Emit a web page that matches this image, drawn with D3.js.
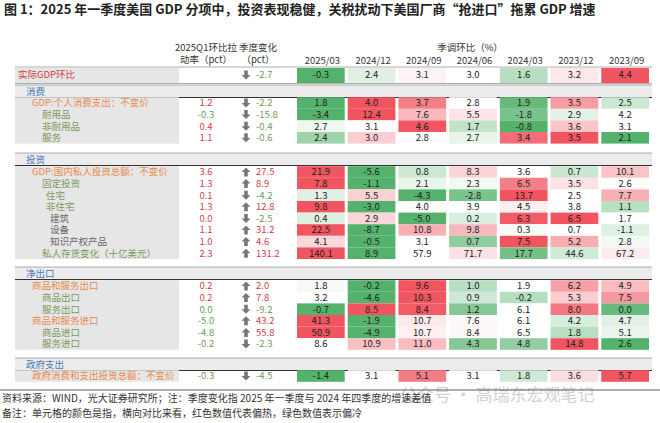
<!DOCTYPE html><html><head><meta charset="utf-8">
<script src="https://cdn.jsdelivr.net/npm/d3@7"></script>
<style>body{margin:0;background:#fff}text{font-family:"Noto Sans CJK SC","Noto Sans",sans-serif}</style></head><body><svg id="c" width="660" height="423"></svg>
<script>
const periods=["2025/03","2024/12","2024/09","2024/06","2024/03","2023/12","2023/09"];
const sections=["实际GDP环比","消费","投资","净出口","政府支出"];
const labels=[
 ["实际GDP环比"],
 ["GDP:个人消费支出：不变价","耐用品","非耐用品","服务"],
 ["GDP:国内私人投资总额：不变价","固定投资","住宅","非住宅","建筑","设备","知识产权产品","私人存货变化（十亿美元）"],
 ["商品和服务出口","商品出口","服务出口","商品和服务进口","商品进口","服务进口"],
 ["政府消费和支出投资总额：不变价"]];
const levels=[[0],[1,2,2,2],[1,2,3,3,4,4,4,2],[1,2,2,1,2,2],[1]];
const contrib=[[null],[1.2,-0.3,0.4,1.1],[3.6,1.3,0.1,1.3,0.0,1.1,1.0,2.3],[0.2,0.2,0.0,-5.0,-4.8,-0.2],[-0.3]];
const contribHot=[[null],[1,0,1,1],[1,1,1,1,1,1,1,1],[1,1,0,0,0,0],[0]];
const change=[[-2.7],[-2.2,-15.8,-0.4,-0.6],[27.5,8.9,-4.2,12.8,-2.5,31.2,4.6,131.2],[2.0,7.8,-9.2,43.2,55.8,-2.3],[-4.5]];
const values=[
 [[-0.3,2.4,3.1,3.0,1.6,3.2,4.4]],
 [[1.8,4.0,3.7,2.8,1.9,3.5,2.5],[-3.4,12.4,7.6,5.5,-1.8,2.9,4.2],[2.7,3.1,4.6,1.7,-0.8,3.6,3.1],[2.4,3.0,2.8,2.7,3.4,3.5,2.1]],
 [[21.9,-5.6,0.8,8.3,3.6,0.7,10.1],[7.8,-1.1,2.1,2.3,6.5,3.5,2.6],[1.3,5.5,-4.3,-2.8,13.7,2.5,7.7],[9.8,-3.0,4.0,3.9,4.5,3.8,1.1],[0.4,2.9,-5.0,0.2,6.3,6.5,1.7],[22.5,-8.7,10.8,9.8,0.3,0.7,-1.1],[4.1,-0.5,3.1,0.7,7.5,5.2,2.8],[140.1,8.9,57.9,71.7,17.7,44.6,67.2]],
 [[1.8,-0.2,9.6,1.0,1.9,6.2,4.9],[3.2,-4.6,10.3,0.9,-0.2,5.3,7.5],[-0.7,8.5,8.4,1.2,6.1,8.0,0.0],[41.3,-1.9,10.7,7.6,6.1,4.2,4.7],[50.9,-4.9,10.7,8.4,6.5,1.8,5.1],[8.6,10.9,11.0,4.3,4.8,14.8,2.6]],
 [[-1.4,3.1,5.1,3.1,1.8,3.6,5.7]]];

const svg=d3.select("#c");
const RH=11.6, FS=9.5;
const x=d3.scaleBand().domain(periods).range([297,652]).paddingInner(0);
const RED="#d0404a",GRN="#6f9a5a";
svg.append("text").attr("x",4).attr("y",14).attr("font-size",13).attr("font-weight","bold").attr("fill","#222")
 .text("图 1：2025 年一季度美国 GDP 分项中，投资表现稳健，关税扰动下美国厂商“抢进口”拖累 GDP 增速");
const hd=(t,xx,y,a)=>svg.append("text").attr("x",xx).attr("y",y).attr("font-size",9.5).attr("text-anchor",a||"middle").attr("fill","#333").text(t);
hd("2025Q1环比拉",206,51);hd("动率（pct）",206,63);hd("季度变化",258,51);hd("（pct）",258,63);
hd("季调环比（%）",470,51);
periods.forEach(p=>hd(p,x(p)+x.bandwidth()/2,64));
const lvColor=[RED,"#e8894f","#7a9a5c","#7a9a5c","#666"];
const lvX=[18,32,42,46,50];
const secY=[null,91,159,273,364];
const rowStart=[75,103,172,286,376];
sections.forEach((s,si)=>{
  if(si>0){
    const hy=secY[si];
    svg.append("rect").attr("x",15).attr("y",hy-6).attr("width",637).attr("height",12).attr("fill","#ececec");
    svg.append("line").attr("x1",15).attr("x2",652).attr("y1",hy-6).attr("y2",hy-6).attr("stroke","#999").attr("stroke-width",0.8);
    svg.append("line").attr("x1",15).attr("x2",652).attr("y1",hy+6.5).attr("y2",hy+6.5).attr("stroke","#333").attr("stroke-width",1.2);
    svg.append("text").attr("x",26).attr("y",hy+3.5).attr("font-size",FS).attr("fill","#4a78b8").text(s);
  } else {
    svg.append("line").attr("x1",15).attr("x2",652).attr("y1",67).attr("y2",67).attr("stroke","#999").attr("stroke-width",0.8);
    svg.append("line").attr("x1",15).attr("x2",652).attr("y1",83.5).attr("y2",83.5).attr("stroke","#999").attr("stroke-width",0.8);
  }
  const n=labels[si].length;
  const y0=rowStart[si]-RH/2;
  svg.append("rect").attr("x",15).attr("y",si==0?68:y0).attr("width",164).attr("height",si==0?15:n*RH).attr("fill","#e6e6e6");
  values[si].forEach((row,ri)=>{
    const cy=rowStart[si]+ri*RH, h=si==0?15:RH, top=si==0?68:cy-RH/2;
    const med=d3.median(row);
    const col=d3.scaleLinear().domain([d3.min(row),med,d3.max(row)]).range(["#55b26c","#ffffff","#f05560"]).interpolate(d3.interpolateRgb);
    row.forEach((v,k)=>{
      svg.append("rect").attr("x",x(periods[k])).attr("y",top).attr("width",x.bandwidth()-3).attr("height",h).attr("fill",col(v));
      svg.append("text").attr("x",x(periods[k])+x.bandwidth()/2-1.5).attr("y",cy+3.3).attr("font-size",FS).attr("text-anchor","middle").attr("fill","#222").text(v.toFixed(1));
    });
    svg.append("text").attr("x",lvX[levels[si][ri]]).attr("y",cy+3.3).attr("font-size",FS).attr("fill",lvColor[levels[si][ri]]).text(labels[si][ri]);
    const c=contrib[si][ri];
    if(c!==null) svg.append("text").attr("x",206).attr("y",cy+3.3).attr("font-size",FS).attr("text-anchor","middle").attr("fill",contribHot[si][ri]?RED:GRN).text(c.toFixed(1));
    const ch=change[si][ri], up=ch>0;
    svg.append("path").attr("transform",`translate(246,${cy})`).attr("fill","#777")
      .attr("d",up?"M0,-4.5L4.5,0L1.8,0L1.8,4.5L-1.8,4.5L-1.8,0L-4.5,0Z":"M0,4.5L4.5,0L1.8,0L1.8,-4.5L-1.8,-4.5L-1.8,0L-4.5,0Z");
    svg.append("text").attr("x",256).attr("y",cy+3.3).attr("font-size",FS).attr("fill",up?RED:GRN).text(ch.toFixed(1));
  });
});
svg.append("text").attr("x",400).attr("y",401).attr("font-size",17).attr("fill","#c8c8c8").attr("opacity",0.8).text("公众号 · 高瑞东宏观笔记");
svg.append("line").attr("x1",0).attr("x2",660).attr("y1",390).attr("y2",390).attr("stroke","#333").attr("stroke-width",0.8);
svg.append("text").attr("x",2).attr("y",402).attr("font-size",10).attr("fill","#333").text("资料来源：WIND，光大证券研究所；注：季度变化指 2025 年一季度与 2024 年四季度的增速差值");
svg.append("text").attr("x",2).attr("y",417).attr("font-size",10).attr("fill","#333").text("备注：单元格的颜色是指，横向对比来看，红色数值代表偏热，绿色数值表示偏冷");
</script></body></html>
